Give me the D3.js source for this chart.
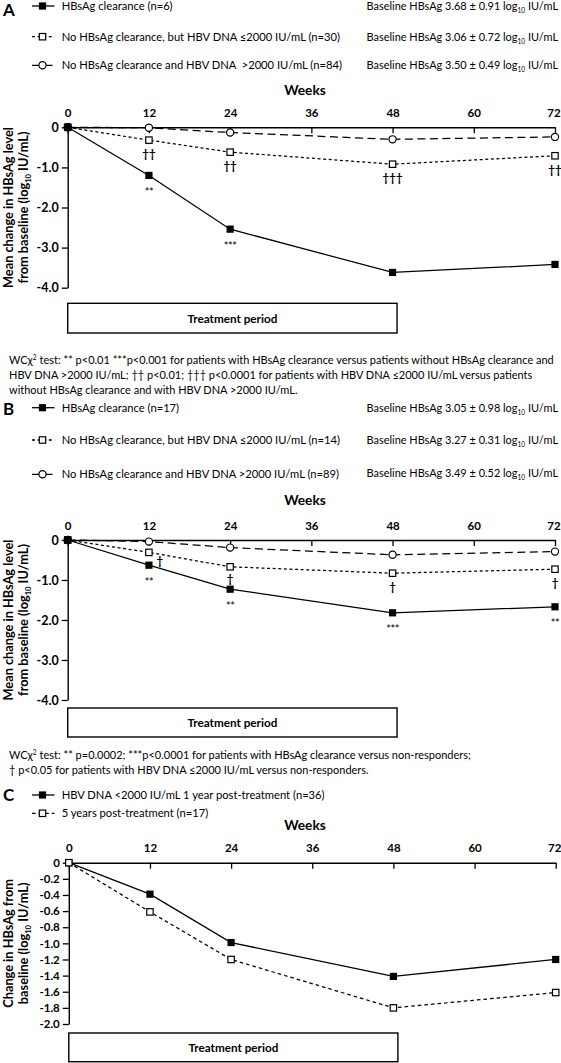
<!DOCTYPE html>
<html><head><meta charset="utf-8">
<script src="https://cdn.jsdelivr.net/npm/d3@7"></script>
<style>
body{margin:0;background:#fff}
svg{display:block}
text{font-family:Lato,'Open Sans',sans-serif;fill:#000}
</style>
</head><body>
<svg id="c" width="561" height="1063"></svg>
<script>
// ---------------- DATA ----------------
const weeks = [0, 12, 24, 48, 72];
const tickWeeks = [0, 12, 24, 36, 48, 60, 72];

const aClearance = [0, -1.2, -2.54, -3.62, -3.42];
const aDnaLow    = [0, -0.32, -0.62, -0.92, -0.71];
const aDnaHigh   = [0, -0.01, -0.13, -0.3, -0.24];

const bClearance = [0, -0.63, -1.23, -1.82, -1.67];
const bDnaLow    = [0, -0.31, -0.67, -0.83, -0.73];
const bDnaHigh   = [0, -0.04, -0.19, -0.37, -0.29];

const cOneYear   = [0, -0.39, -0.99, -1.41, -1.2];
const cFiveYear  = [0, -0.61, -1.2, -1.8, -1.61];

const abYTicks = [0, -1, -2, -3, -4];
const abYTickLabels = ["0", "-1.0", "-2.0", "-3.0", "-4.0"];
const cYTicks = [0, -0.2, -0.4, -0.6, -0.8, -1.0, -1.2, -1.4, -1.6, -1.8, -2.0];
const cYTickLabels = ["0", "-0.2", "-0.4", "-0.6", "-0.8", "-1.0", "-1.2", "-1.4", "-1.6", "-1.8", "-2.0"];

const aLegend = ["HBsAg clearance (n=6)",
                 "No HBsAg clearance, but HBV DNA \u22642000 IU/mL (n=30)",
                 "No HBsAg clearance and HBV DNA \u00a0>2000 IU/mL (n=84)"];
const aBaselineMean = ["3.68", "3.06", "3.50"];
const aBaselineSD   = ["0.91", "0.72", "0.49"];

const bLegend = ["HBsAg clearance (n=17)",
                 "No HBsAg clearance, but HBV DNA \u22642000 IU/mL (n=14)",
                 "No HBsAg clearance and HBV DNA >2000 IU/mL (n=89)"];
const bBaselineMean = ["3.05", "3.27", "3.49"];
const bBaselineSD   = ["0.98", "0.31", "0.52"];

const cLegend = ["HBV DNA <2000 IU/mL 1 year post-treatment (n=36)",
                 "5 years post-treatment (n=17)"];

const aSignif = [
  {series: "low", week: 12, label: "\u2020\u2020", place: "below"},
  {series: "clr", week: 12, label: "**", place: "below"},
  {series: "low", week: 24, label: "\u2020\u2020", place: "below"},
  {series: "clr", week: 24, label: "***", place: "below"},
  {series: "low", week: 48, label: "\u2020\u2020\u2020", place: "below"},
  {series: "low", week: 72, label: "\u2020\u2020", place: "below"}
];
const bSignif = [
  {series: "clr", week: 12, label: "\u2020", place: "right"},
  {series: "clr", week: 12, label: "**", place: "below"},
  {series: "clr", week: 24, label: "\u2020", place: "above"},
  {series: "clr", week: 24, label: "**", place: "below"},
  {series: "low", week: 48, label: "\u2020", place: "below"},
  {series: "clr", week: 48, label: "***", place: "below"},
  {series: "low", week: 72, label: "\u2020", place: "below"},
  {series: "clr", week: 72, label: "**", place: "below"}
];

const aFootnote = [
  "test: ** p<0.01 ***p<0.001 for patients with HBsAg clearance versus patients without HBsAg clearance and",
  "HBV DNA >2000 IU/mL; \u2020\u2020 p<0.01; \u2020\u2020\u2020 p<0.0001 for patients with HBV DNA \u22642000 IU/mL versus patients",
  "without HBsAg clearance and with HBV DNA >2000 IU/mL."
];
const bFootnote = [
  "test: ** p=0.0002; ***p<0.0001 for patients with HBsAg clearance versus non-responders;",
  "\u2020 p<0.05 for patients with HBV DNA \u22642000 IU/mL versus non-responders."
];

// ---------------- DRAWING ----------------
const svg = d3.select("#c");
svg.append("rect").attr("width", 561).attr("height", 1063).attr("fill", "#fff");

function measure(str, size, weight) {
  const t = svg.append("text").attr("font-size", size).attr("font-weight", weight).text(str);
  const w = t.node().getComputedTextLength(); t.remove(); return w;
}
function sizeFor(str, target, weight) { return 12 * target / measure(str, 12, weight); }

const FS_LEG = sizeFor("HBsAg clearance (n=6)", 111, 400);
const FS_BASE = sizeFor("Baseline HBsAg 3.68 \u00b1 0.91 log IU/mL", 184, 400);
const FS_FOOT = sizeFor("WC\u03c72 test: ** p<0.01 ***p<0.001 for patients with HBsAg clearance versus patients without HBsAg clearance and", 548, 400);
const FS_YT = sizeFor("Mean change in HBsAg level", 161, 700);
const FS_WEEKS = sizeFor("Weeks", 41.6, 700);
const FS_TP = sizeFor("Treatment period", 90, 700);
const FS_TICK = 11.5;
const DAGGER_FONT = "'Liberation Sans','DejaVu Sans',sans-serif";

const styles = {
  clr:  {dash: null, marker: "fsq"},
  low:  {dash: "3,2.6", marker: "osq"},
  high: {dash: "8,4.5", marker: "circ"},
  c1:   {dash: null, marker: "fsq"},
  c5:   {dash: "3.6,3", marker: "osq"}
};

function drawMarker(g, type, cx, cy) {
  if (type === "fsq") {
    g.append("rect").attr("x", cx - 3.6).attr("y", cy - 3.6).attr("width", 7.2).attr("height", 7.2).attr("fill", "#000");
  } else if (type === "osq") {
    g.append("rect").attr("x", cx - 3.2).attr("y", cy - 3.2).attr("width", 6.4).attr("height", 6.4)
      .attr("fill", "#fff").attr("stroke", "#000").attr("stroke-width", 1.2);
  } else {
    g.append("circle").attr("cx", cx).attr("cy", cy).attr("r", 3.6)
      .attr("fill", "#fff").attr("stroke", "#000").attr("stroke-width", 1.2);
  }
}

function legendRow(g, key, y, label) {
  const st = styles[key];
  g.append("line").attr("x1", 32).attr("x2", 54.5).attr("y1", y).attr("y2", y)
    .attr("stroke", "#000").attr("stroke-width", 1.3).attr("stroke-dasharray", st.dash);
  drawMarker(g, st.marker, 42.5, y);
  g.append("text").attr("x", 61.7).attr("y", y).attr("dy", "0.35em")
    .attr("font-size", FS_LEG).style("white-space", "pre").text(label);
}

function baselineText(g, y, mean, sd) {
  const t = g.append("text").attr("x", 366.5).attr("y", y).attr("dy", "0.35em").attr("font-size", FS_BASE);
  t.append("tspan").text("Baseline HBsAg " + mean + " \u00b1 " + sd + " log");
  t.append("tspan").attr("font-size", FS_BASE * 0.6).attr("dy", 3).text("10");
  t.append("tspan").attr("dy", -3).text(" IU/mL");
}

function panelLetter(g, letter, y) {
  g.append("text").attr("x", 3).attr("y", y).attr("dy", "0.36em")
    .attr("font-family", "'Liberation Sans',Arial,sans-serif").attr("font-weight", 700)
    .attr("font-size", 17).text(letter);
}

function footnote(g, lines, y0, withChi) {
  lines.forEach((ln, i) => {
    const t = g.append("text").attr("x", 9).attr("y", y0 + i * 15.1).attr("dy", "0.35em").attr("font-size", FS_FOOT);
    if (i === 0 && withChi) {
      t.append("tspan").text("WC\u03c7");
      t.append("tspan").attr("font-size", FS_FOOT * 0.6).attr("dy", -4).text("2");
      t.append("tspan").attr("dy", 4).text(" " + ln);
    } else {
      t.text(ln);
    }
  });
}

function drawPanel(o) {
  const g = svg.append("g");
  const x = d3.scaleLinear().domain([0, 72]).range([o.x0, o.x1]);
  const y = d3.scaleLinear().domain([0, o.yMin]).range([o.yTop, o.yBot]);

  // Weeks title
  g.append("text").attr("x", 305).attr("y", o.weeksY).attr("dy", "0.35em")
    .attr("text-anchor", "middle").attr("font-weight", 700).attr("font-size", FS_WEEKS).text("Weeks");

  // top x axis
  const xa = g.append("g").attr("transform", `translate(0,${o.yTop})`)
    .call(d3.axisTop(x).tickValues(tickWeeks).tickSizeInner(-6).tickSizeOuter(0).tickPadding(o.tickPad).tickFormat(d3.format("d")));
  xa.attr("font-family", null);
  xa.select(".domain").attr("stroke-width", 1.4);
  xa.selectAll(".tick line").attr("stroke-width", 1.3);
  xa.selectAll("text").attr("font-size", FS_TICK).attr("font-weight", 700)
    .attr("dx", d => d === 72 ? "-1.5" : null);

  // left y axis
  const ya = g.append("g").attr("transform", `translate(${o.x0},0)`)
    .call(d3.axisLeft(y).tickValues(o.yTicks).tickSizeInner(6).tickSizeOuter(0).tickPadding(3)
      .tickFormat((d, i) => o.yTickLabels[i]));
  ya.attr("font-family", null);
  ya.select(".domain").attr("stroke-width", 1.4);
  ya.selectAll(".tick line").attr("stroke-width", 1.3);
  ya.selectAll("text").attr("font-size", o.yTickFs).attr("font-weight", 700);

  // y title
  const cy = (o.yTop + o.yBot) / 2;
  o.yTitle.forEach((ln, i) => {
    const t = g.append("text").attr("transform", `translate(${o.yTitleX[i]},${cy}) rotate(-90)`)
      .attr("text-anchor", "middle").attr("font-weight", 700).attr("font-size", o.yTitleFs);
    if (ln.includes("log10")) {
      const parts = ln.split("log10");
      t.append("tspan").text(parts[0] + "log");
      t.append("tspan").attr("font-size", o.yTitleFs * 0.6).attr("dy", 3).text("10");
      t.append("tspan").attr("dy", -3).text(parts[1]);
    } else t.text(ln);
  });

  // treatment box
  g.append("rect").attr("x", o.x0).attr("y", o.boxTop).attr("width", x(48) + 4.5 - o.x0)
    .attr("height", o.boxBot - o.boxTop).attr("fill", "none").attr("stroke", "#000").attr("stroke-width", 1.4);
  g.append("text").attr("x", (o.x0 + x(48) + 4.5) / 2).attr("y", (o.boxTop + o.boxBot) / 2 + 0.5).attr("dy", "0.35em")
    .attr("text-anchor", "middle").attr("font-weight", 700).attr("font-size", FS_TP).text("Treatment period");

  // lines
  const line = d3.line().x((d, i) => x(weeks[i])).y(d => y(d));
  o.series.forEach(s => {
    g.append("path").datum(s.values).attr("d", line).attr("fill", "none")
      .attr("stroke", "#000").attr("stroke-width", 1.25).attr("stroke-dasharray", styles[s.key].dash);
  });
  o.series.forEach(s => {
    s.values.forEach((v, i) => drawMarker(g, styles[s.key].marker, x(weeks[i]), y(v)));
  });

  // significance marks
  const byKey = {};
  o.series.forEach(s => byKey[s.key] = s.values);
  (o.signif || []).forEach(a => {
    const v = byKey[a.series][weeks.indexOf(a.week)];
    let px = x(a.week), py = y(v);
    const isStar = a.label.includes("*");
    if (a.place === "below") py += isStar ? 16.5 : 14;
    else if (a.place === "above") py -= 10;
    else if (a.place === "right") { px += 11; py -= 4; }
    g.append("text").attr("x", px).attr("y", py).attr("dy", "0.35em").attr("text-anchor", "middle")
      .attr("font-family", isStar ? null : DAGGER_FONT)
      .attr("font-size", isStar ? 11 : 11.5).attr("font-weight", isStar ? 400 : 700)
      .attr("fill", isStar ? "#333" : "#000")
      .style("letter-spacing", isStar ? "-0.5px" : "0px").text(a.label);
  });
  return g;
}

// ---------- Panel A ----------
const gA = svg.append("g");
panelLetter(gA, "A", 9.5);
aLegend.forEach((l, i) => legendRow(gA, ["clr", "low", "high"][i], [6, 36.7, 65.3][i], l));
aBaselineMean.forEach((m, i) => baselineText(gA, [6, 36.7, 65.3][i], m, aBaselineSD[i]));
drawPanel({
  x0: 67.7, x1: 555, yTop: 127.3, yBot: 287.7, yMin: -4, yTicks: abYTicks, yTickLabels: abYTickLabels, yTickFs: 12.5,
  weeksY: 90, tickPad: 10, boxTop: 303.3, boxBot: 333,
  yTitle: ["Mean change in HBsAg level", "from baseline (log10 IU/mL)"], yTitleX: [12.5, 27.5], yTitleFs: FS_YT,
  series: [{key: "high", values: aDnaHigh}, {key: "low", values: aDnaLow}, {key: "clr", values: aClearance}],
  signif: aSignif
});
footnote(gA, aFootnote, 360.4, true);

// ---------- Panel B ----------
const gB = svg.append("g");
panelLetter(gB, "B", 409);
bLegend.forEach((l, i) => legendRow(gB, ["clr", "low", "high"][i], [407.7, 440, 474.3][i], l));
bBaselineMean.forEach((m, i) => baselineText(gB, [407.7, 440, 473][i], m, bBaselineSD[i]));
drawPanel({
  x0: 67.7, x1: 555, yTop: 540, yBot: 700, yMin: -4, yTicks: abYTicks, yTickLabels: abYTickLabels, yTickFs: 12.5,
  weeksY: 500, tickPad: 10, boxTop: 708, boxBot: 737,
  yTitle: ["Mean change in HBsAg level", "from baseline (log10 IU/mL)"], yTitleX: [12.5, 27.5], yTitleFs: FS_YT,
  series: [{key: "high", values: bDnaHigh}, {key: "low", values: bDnaLow}, {key: "clr", values: bClearance}],
  signif: bSignif
});
footnote(gB, bFootnote, 755.4, true);

// ---------- Panel C ----------
const gC = svg.append("g");
panelLetter(gC, "C", 795);
cLegend.forEach((l, i) => legendRow(gC, ["c1", "c5"][i], [795, 813.3][i], l));
drawPanel({
  x0: 68.8, x1: 555.7, yTop: 862.7, yBot: 1024, yMin: -2, yTicks: cYTicks, yTickLabels: cYTickLabels, yTickFs: 11.5,
  weeksY: 825, tickPad: 11, boxTop: 1033, boxBot: 1061.7,
  yTitle: ["Change in HBsAg from", "baseline (log10 IU/mL)"], yTitleX: [13, 28], yTitleFs: FS_YT,
  series: [{key: "c1", values: cOneYear}, {key: "c5", values: cFiveYear}],
  signif: []
});
</script>
</body></html>
